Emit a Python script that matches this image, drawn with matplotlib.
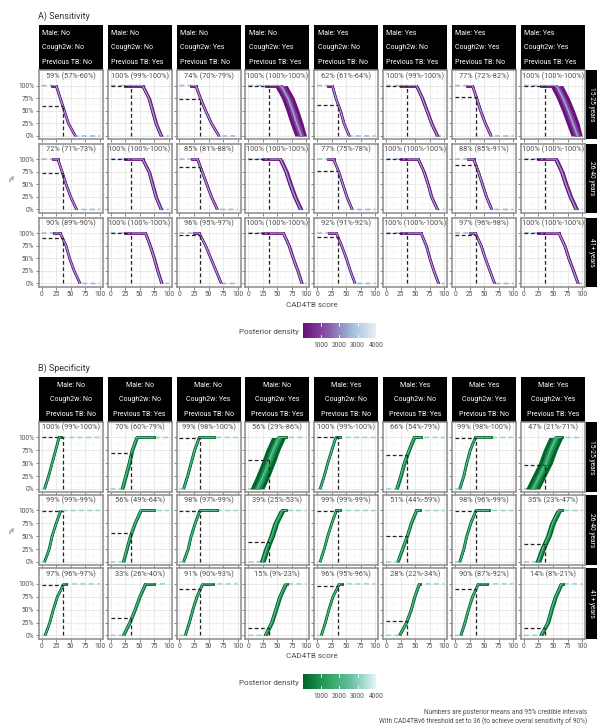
import numpy as np
import matplotlib
matplotlib.use("Agg")
import matplotlib.pyplot as plt
from matplotlib.colors import LinearSegmentedColormap

plt.rcParams['font.family'] = ['Roboto', 'DejaVu Sans']

# ---------------- data ----------------
col_male = ["No", "No", "No", "No", "Yes", "Yes", "Yes", "Yes"]
col_cough = ["No", "No", "Yes", "Yes", "No", "No", "Yes", "Yes"]
col_prevtb = ["No", "Yes", "No", "Yes", "No", "Yes", "No", "Yes"]
age_groups = ["15-25 years", "26-40 years", "41+ years"]
threshold = 36

# Sensitivity: posterior mean / lower / upper (%)
sens_mean = [[59, 100, 74, 100, 62, 100, 77, 100],
             [72, 100, 85, 100, 77, 100, 88, 100],
             [90, 100, 96, 100, 92, 100, 97, 100]]
sens_lo = [[57, 99, 70, 100, 61, 99, 72, 100],
           [71, 100, 81, 100, 75, 100, 85, 100],
           [89, 100, 95, 100, 91, 100, 96, 100]]
sens_hi = [[60, 100, 79, 100, 64, 100, 82, 100],
           [73, 100, 88, 100, 78, 100, 91, 100],
           [90, 100, 97, 100, 92, 100, 98, 100]]
# curve: CAD4TB score at which sensitivity = 100, 75, 50, 25, 0 %
sens_levels = [100, 75, 50, 25, 0]
sens_knots = [
    [[25, 32, 39, 46, 58], [55, 66, 72, 78, 87], [28, 36, 45, 55, 68], [56, 68, 76, 83, 91],
     [26, 32, 40, 46, 55], [52, 62, 70, 78, 88], [30, 37, 44, 52, 62], [56, 67, 76, 84, 92]],
    [[28, 35, 42, 50, 60], [55, 66, 72, 78, 87], [31, 39, 47, 55, 65], [55, 65, 72, 80, 90],
     [28, 37, 44, 51, 60], [55, 65, 72, 78, 88], [32, 40, 47, 54, 63], [55, 65, 72, 80, 90]],
    [[32, 42, 48, 56, 66], [60, 68, 75, 81, 88], [34, 45, 54, 63, 72], [60, 70, 77, 85, 92],
     [33, 42, 50, 57, 65], [60, 69, 75, 82, 90], [35, 45, 52, 60, 68], [60, 70, 77, 85, 93]]]
sens_spread = [[1.5, 3, 2, 11, 1.5, 3, 2, 11],
               [1.5, 3, 2, 4, 1.5, 2.5, 2, 4],
               [1, 2.5, 1.5, 2.5, 1, 2, 1.5, 2.5]]
sens_data_start = [[18, 25, 20, 30, 18, 25, 20, 30],
                   [20, 25, 22, 25, 18, 25, 22, 25],
                   [22, 25, 25, 25, 20, 25, 25, 25]]

# Specificity
spec_mean = [[100, 70, 99, 56, 100, 66, 99, 47],
             [99, 56, 98, 39, 99, 51, 98, 35],
             [97, 33, 91, 15, 96, 28, 90, 14]]
spec_lo = [[99, 60, 98, 29, 99, 54, 98, 21],
           [99, 49, 97, 25, 99, 44, 96, 23],
           [96, 26, 90, 9, 95, 22, 87, 8]]
spec_hi = [[100, 79, 100, 86, 100, 79, 100, 71],
           [99, 64, 99, 53, 99, 59, 99, 47],
           [97, 40, 93, 23, 96, 34, 92, 21]]
# curve: CAD4TB score at which specificity = 0, 25, 50, 75, 100 %
spec_levels = [0, 25, 50, 75, 100]
spec_knots = [
    [[5, 12, 18, 24, 30], [20, 26, 32, 37, 45], [7, 14, 20, 26, 34], [15, 25, 34, 42, 52],
     [5, 12, 18, 25, 32], [18, 25, 31, 39, 48], [8, 15, 20, 26, 35], [15, 26, 37, 45, 55]],
    [[5, 13, 18, 25, 33], [22, 28, 34, 42, 52], [7, 15, 20, 27, 35], [24, 31, 40, 47, 58],
     [5, 12, 18, 25, 33], [20, 28, 36, 43, 52], [8, 15, 20, 27, 36], [24, 32, 42, 49, 60]],
    [[6, 14, 20, 27, 38], [22, 33, 42, 50, 60], [10, 17, 23, 30, 40], [29, 40, 47, 54, 64],
     [7, 14, 20, 27, 38], [23, 35, 43, 49, 57], [10, 17, 23, 30, 40], [29, 41, 47, 54, 64]]]
spec_spread = [[1, 3, 1.5, 12, 1, 3, 1.5, 12],
               [1, 2.5, 1.5, 5, 1, 2.5, 1.5, 5],
               [1, 2.5, 1.5, 3.5, 1, 2, 1.5, 3.5]]
spec_data_end = [[33, 75, 60, 65, 40, 60, 62, 65],
                 [34, 75, 65, 65, 40, 58, 58, 65],
                 [42, 75, 58, 67, 42, 58, 55, 67]]

x_ticks = [0, 25, 50, 75, 100]
y_ticks = [0, 25, 50, 75, 100]
y_ticklabels = ["0%", "25%", "50%", "75%", "100%"]
cbar_ticks = [1000, 2000, 3000, 4000]

# ---------------- style ----------------
W, H = 597, 727
fig = plt.figure(figsize=(W / 100, H / 100), dpi=100)

def fa(x0, y0, x1, y1):
    return [x0 / W, 1 - y1 / H, (x1 - x0) / W, (y1 - y0) / H]

purple = LinearSegmentedColormap.from_list("pu", ["#6a0f7b", "#8856a7", "#9ebcda", "#e8f0f8"])
green = LinearSegmentedColormap.from_list("gn", ["#00652a", "#2ca25f", "#66c2a4", "#e5f5f9"])
light_pu = "#9ebcda"
light_gn = "#99d8c9"

col_x0 = [38.7 + i * 68.9 for i in range(8)]
col_w = 64
TXT = "#4d4d4d"
XLIM = (-5, 105)
YLIM = (-6, 131)


def style_ax(ax, show_y, show_x):
    ax.set_xlim(*XLIM)
    ax.set_ylim(*YLIM)
    ax.set_xticks(x_ticks)
    ax.set_yticks(y_ticks)
    ax.set_xticks([12.5, 37.5, 62.5, 87.5], minor=True)
    ax.set_yticks([12.5, 37.5, 62.5, 87.5, 112.5], minor=True)
    ax.grid(True, which='major', color='#e6e6e6', lw=0.6, zorder=0)
    ax.grid(True, which='minor', color='#f3f3f3', lw=0.4, zorder=0)
    ax.set_axisbelow(True)
    for s in ax.spines.values():
        s.set_color('#8a8a8a')
        s.set_linewidth(1.1)
    ax.tick_params(which='minor', length=0)
    ax.tick_params(which='major', length=2, width=0.5, color='#555555',
                   labelsize=4.7, labelcolor=TXT, pad=1.5)
    if show_y:
        ax.set_yticklabels(y_ticklabels)
    else:
        ax.set_yticklabels([])
    if show_x:
        ax.set_xticklabels([str(t) for t in x_ticks])
    else:
        ax.set_xticklabels([])


def draw_band(ax, xk, yk, hw, cmap):
    xk = np.array(xk, float)
    yk = np.array(yk, float)
    left = np.clip(xk - hw, 0, 100)
    right = np.clip(xk + hw, 0, 100)
    ax.fill_betweenx(yk, left, right, color=cmap(0.0), lw=0, zorder=3)
    ax.plot(xk, yk, color=cmap(0.0), lw=2.0, solid_capstyle='butt', zorder=3)
    ax.fill_betweenx(yk, np.clip(xk - hw * 0.5, 0, 100), np.clip(xk + hw * 0.5, 0, 100),
                     color=cmap(0.22), lw=0, zorder=4)
    if hw > 5:
        ax.fill_betweenx(yk, xk - hw * 0.2, xk + hw * 0.2, color=cmap(0.42), lw=0, zorder=4)


def draw_panel(kind, strip_top, strip_bot, row_tops, row_h, cmap, light, align):
    for c in range(8):
        sax = fig.add_axes(fa(col_x0[c], strip_top, col_x0[c] + col_w, strip_bot))
        sax.set_facecolor('black')
        sax.set_xticks([]); sax.set_yticks([])
        for s in sax.spines.values():
            s.set_visible(False)
        lines = ["Male: " + col_male[c], "Cough2w: " + col_cough[c], "Previous TB: " + col_prevtb[c]]
        for j, t in enumerate(lines):
            yy = 0.82 - j * 0.33
            if align == 'left':
                sax.text(0.05, yy, t, color='white', fontsize=5.0, ha='left', va='center', transform=sax.transAxes)
            else:
                sax.text(0.5, yy, t, color='white', fontsize=5.0, ha='center', va='center', transform=sax.transAxes)
    for r in range(3):
        top = row_tops[r]
        bot = top + row_h
        rax = fig.add_axes(fa(586, top, 597, bot))
        rax.set_facecolor('black')
        rax.set_xticks([]); rax.set_yticks([])
        for s in rax.spines.values():
            s.set_visible(False)
        rax.text(0.5, 0.5, age_groups[r], color='white', fontsize=4.8, rotation=-90,
                 ha='center', va='center', transform=rax.transAxes)
        for c in range(8):
            ax = fig.add_axes(fa(col_x0[c], top, col_x0[c] + col_w, bot))
            style_ax(ax, c == 0, r == 2)
            if kind == 'sens':
                m, lo, hi = sens_mean[r][c], sens_lo[r][c], sens_hi[r][c]
                xk = sens_knots[r][c]
                lv = sens_levels
                hw = sens_spread[r][c]
                st = sens_data_start[r][c]
                ax.plot([0] + xk + [100], [100] + lv + [0], color=light, lw=1.2,
                        ls=(0, (3, 2)), zorder=2)
                ax.plot([st, xk[0]], [100, 100], color=cmap(0.0), lw=2.0, zorder=3)
                draw_band(ax, xk, lv, hw, cmap)
                ax.plot([st] + xk, [100] + lv, color=cmap(0.65), lw=0.7, zorder=5)
            else:
                m, lo, hi = spec_mean[r][c], spec_lo[r][c], spec_hi[r][c]
                xk = spec_knots[r][c]
                lv = spec_levels
                hw = spec_spread[r][c]
                en = spec_data_end[r][c]
                ax.plot([0] + xk + [100], [0] + lv + [100], color=light, lw=1.2,
                        ls=(0, (3, 2)), zorder=2)
                ax.plot([xk[-1], en], [100, 100], color=cmap(0.0), lw=2.0, zorder=3)
                draw_band(ax, xk, lv, hw, cmap)
                ax.plot(xk + [en], lv + [100], color=cmap(0.65), lw=0.7, zorder=5)
            ax.plot([0, threshold], [m, m], color='#222222', lw=0.9, ls=(0, (3, 2)), zorder=6)
            ax.plot([threshold, threshold], [0, m], color='#222222', lw=0.9, ls=(0, (3, 2)), zorder=6)
            ax.text(50, 119, f"{m}% ({lo}%-{hi}%)", ha='center', va='center',
                    fontsize=5.3, color=TXT, zorder=7)


def draw_cbar(y0, y1, cmap, title_y):
    cax = fig.add_axes(fa(303, y0, 376, y1))
    vmin, vmax = 40, 4000
    grad = np.linspace(vmin, vmax, 256).reshape(1, -1)
    cax.imshow(grad, aspect='auto', cmap=cmap, extent=[vmin, vmax, 0, 1], origin='lower')
    cax.set_xlim(vmin, vmax)
    cax.set_ylim(0, 1)
    for t in cbar_ticks:
        cax.plot([t, t], [0, 0.2], color='white', lw=0.6)
        cax.plot([t, t], [0.8, 1], color='white', lw=0.6)
    cax.set_yticks([])
    cax.set_xticks(cbar_ticks)
    cax.set_xticklabels([str(t) for t in cbar_ticks])
    cax.tick_params(length=0, labelsize=4.7, labelcolor=TXT, pad=3)
    for s in cax.spines.values():
        s.set_visible(False)
    fig.text(299 / W, 1 - title_y / H, "Posterior density", ha='right', va='center',
             fontsize=5.8, color=TXT)


# Panel A
fig.text(38 / W, 1 - 16.5 / H, "A) Sensitivity", ha='left', va='center', fontsize=6.5, color='#333333')
draw_panel('sens', 25, 70, [70, 143.5, 217.5], 69, purple, light_pu, 'left')
fig.text(312 / W, 1 - 305 / H, "CAD4TB score", ha='center', va='center', fontsize=5.8, color=TXT)
fig.text(13 / W, 1 - 178 / H, "%", ha='center', va='center', fontsize=5.8, color=TXT, rotation=90)
draw_cbar(323, 338, purple, 332)

# Panel B
fig.text(38 / W, 1 - 368 / H, "B) Specificity", ha='left', va='center', fontsize=6.5, color='#333333')
draw_panel('spec', 377, 421.5, [421.5, 494.5, 568], 70.5, green, light_gn, 'center')
fig.text(312 / W, 1 - 656 / H, "CAD4TB score", ha='center', va='center', fontsize=5.8, color=TXT)
fig.text(13 / W, 1 - 530 / H, "%", ha='center', va='center', fontsize=5.8, color=TXT, rotation=90)
draw_cbar(674, 689, green, 683)

fig.text(587 / W, 1 - 713 / H, "Numbers are posterior means and 95% credible intervals",
         ha='right', va='center', fontsize=4.7, color=TXT)
fig.text(587 / W, 1 - 721 / H,
         "With CAD4TBv6 threshold set to 36 (to achieve overal sensitivity of 90%)",
         ha='right', va='center', fontsize=4.7, color=TXT)

fig.savefig("out.png", dpi=100, facecolor='white')
